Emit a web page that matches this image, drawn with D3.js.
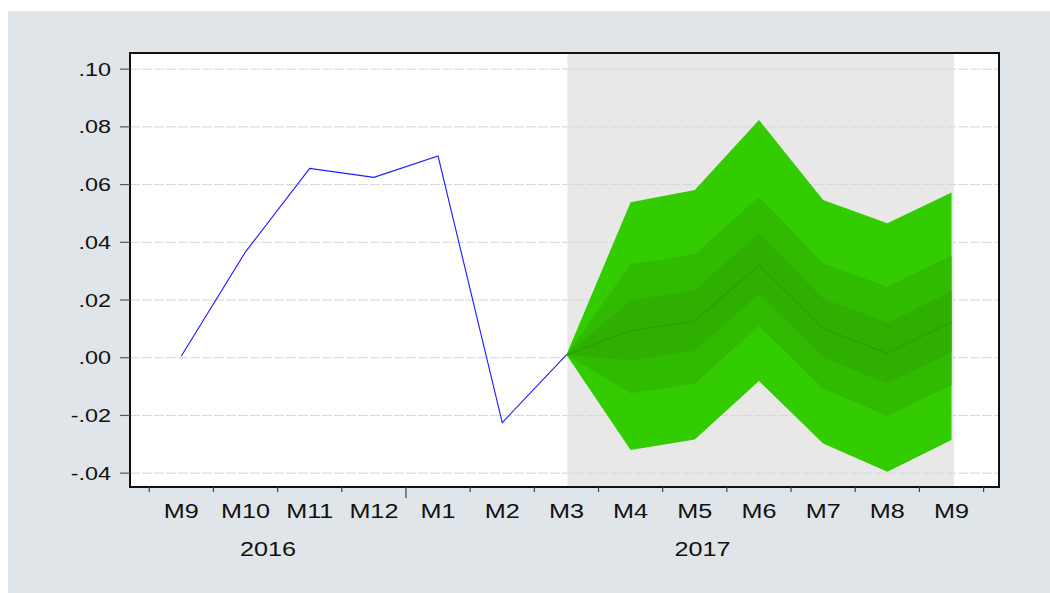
<!DOCTYPE html>
<html><head><meta charset="utf-8">
<script src="https://cdn.jsdelivr.net/npm/d3@7"></script>
<style>html,body{margin:0;padding:0;background:#fff;}svg{display:block;}</style>
</head><body>
<script>
// ---- data ----
const monthLabels = ["M9","M10","M11","M12","M1","M2","M3","M4","M5","M6","M7","M8","M9"];
const yearLabels = ["2016","2017"];
const actual = [0.0006, 0.0367, 0.0656, 0.0625, 0.0699, -0.0225, 0.0010];
const fanStart = 6; // index of M3 2017
const fanCenter = [0.0010, 0.0094, 0.0127, 0.0321, 0.0101, 0.0015, 0.0125];
const innerHi  = [0.0010, 0.0199, 0.0235, 0.0431, 0.0205, 0.0121, 0.0231];
const innerLo  = [0.0010, -0.0009, 0.0024, 0.0220, 0.0001, -0.0089, 0.0019];
const midHi    = [0.0010, 0.0324, 0.0359, 0.0558, 0.0327, 0.0246, 0.0354];
const midLo    = [0.0010, -0.0123, -0.0089, 0.0110, -0.0107, -0.0202, -0.0095];
const outerHi  = [0.0010, 0.0539, 0.0581, 0.0824, 0.0547, 0.0466, 0.0573];
const outerLo  = [0.0010, -0.0320, -0.0283, -0.0081, -0.0297, -0.0395, -0.0285];
const yTicks = [-0.04, -0.02, 0.00, 0.02, 0.04, 0.06, 0.08, 0.10];
const yTickLabels = ["-.04","-.02",".00",".02",".04",".06",".08",".10"];

// ---- layout ----
const W = 1050, H = 593;
const L = 130, R = 999, T = 53, B = 487;
const svg = d3.select("body").append("svg").attr("width", W).attr("height", H);
svg.append("rect").attr("x", 8).attr("y", 11).attr("width", W - 8).attr("height", H - 11).attr("fill", "#e0e5e9");
svg.append("rect").attr("x", L).attr("y", T).attr("width", R - L).attr("height", B - T).attr("fill", "#fff");

const x = d3.scaleLinear().domain([-0.8, 12.74]).range([L, R]);
const y = d3.scaleLinear().domain([-0.0448, 0.1056]).range([B, T]);

// forecast shading
svg.append("rect").attr("x", x(fanStart) + 1).attr("y", T)
  .attr("width", x(monthLabels.length - 1) - x(fanStart) + 1.5).attr("height", B - T)
  .attr("fill", "#e8e8e8");

// gridlines
svg.append("g").selectAll("line").data(yTicks).join("line")
  .attr("x1", L).attr("x2", R).attr("y1", d => y(d)).attr("y2", d => y(d))
  .attr("stroke", "#d6d6d6").attr("stroke-width", 1).attr("stroke-dasharray", "10,2");

// fan bands
const band = (hi, lo) => d3.area().x((d, i) => x(fanStart + i)).y0((d, i) => y(lo[i])).y1((d, i) => y(hi[i]))(hi);
svg.append("path").attr("d", band(outerHi, outerLo)).attr("fill", "#33cc00");
svg.append("path").attr("d", band(midHi, midLo)).attr("fill", "#31bb00");
svg.append("path").attr("d", band(innerHi, innerLo)).attr("fill", "#2fb000");
svg.append("path").attr("d", d3.line().x((d, i) => x(fanStart + i)).y(d => y(d))(fanCenter))
  .attr("fill", "none").attr("stroke", "#2aa000").attr("stroke-width", 1.2);

// actual line
svg.append("path").attr("d", d3.line().x((d, i) => x(i)).y(d => y(d))(actual))
  .attr("fill", "none").attr("stroke", "#1a1aff").attr("stroke-width", 1.1);

// frame
svg.append("rect").attr("x", L).attr("y", T).attr("width", R - L).attr("height", B - T)
  .attr("fill", "none").attr("stroke", "#111").attr("stroke-width", 2);

// y axis ticks and labels
const yg = svg.append("g");
yg.selectAll("line").data(yTicks).join("line")
  .attr("x1", L - 10).attr("x2", L).attr("y1", d => y(d)).attr("y2", d => y(d))
  .attr("stroke", "#555").attr("stroke-width", 1.2);
yg.selectAll("text").data(yTicks).join("text")
  .attr("transform", d => `translate(${L - 19},${y(d) + 6.5}) scale(1.3,1)`)
  .attr("text-anchor", "end")
  .attr("font-family", "Liberation Sans, Arial, sans-serif").attr("font-size", 18).attr("fill", "#111")
  .text((d, i) => yTickLabels[i]);

// x axis ticks
const n = monthLabels.length;
const xt = d3.range(n + 1).map(k => k - 0.5);
svg.append("g").selectAll("line").data(xt).join("line")
  .attr("x1", d => x(d)).attr("x2", d => x(d)).attr("y1", B)
  .attr("y2", (d, i) => monthLabels[i] === "M1" && i > 0 ? B + 11 : B + 5)
  .attr("stroke", "#444").attr("stroke-width", 1.2);
svg.append("g").selectAll("text").data(monthLabels).join("text")
  .attr("transform", (d, i) => `translate(${x(i)},${517.5}) scale(1.2,1)`)
  .attr("text-anchor", "middle")
  .attr("font-family", "Liberation Sans, Arial, sans-serif").attr("font-size", 21).attr("fill", "#111")
  .text(d => d);

// year labels: centred on their spans
const yearBreak = monthLabels.indexOf("M1") - 0.5;
const yearPos = [(L + x(yearBreak)) / 2, (x(yearBreak) + R) / 2];
svg.append("g").selectAll("text").data(yearLabels).join("text")
  .attr("transform", (d, i) => `translate(${yearPos[i]},${555.5}) scale(1.2,1)`)
  .attr("text-anchor", "middle")
  .attr("font-family", "Liberation Sans, Arial, sans-serif").attr("font-size", 21).attr("fill", "#111")
  .text(d => d);
</script>
</body></html>
